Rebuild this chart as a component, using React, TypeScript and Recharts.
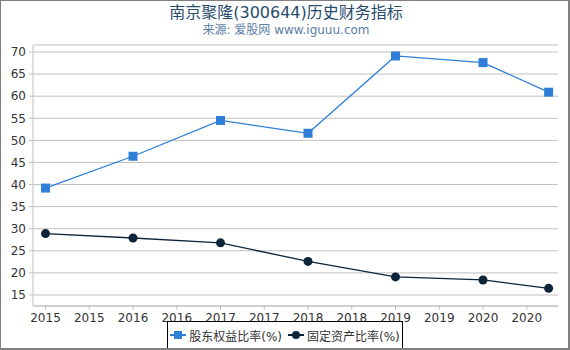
import { LineChart, Line, XAxis, YAxis, CartesianGrid } from 'recharts';

// years after end of 2015 (last point is Q3 2020)
const periods = [0, 1, 2, 3, 4, 5, 5.75];
const equityRatio = [39.2, 46.4, 54.5, 51.6, 69.1, 67.6, 60.9];
const fixedAssetRatio = [28.9, 27.9, 26.8, 22.6, 19.1, 18.4, 16.5];

const xTicks = [0, 0.5, 1, 1.5, 2, 2.5, 3, 3.5, 4, 4.5, 5, 5.5];
const xTickLabels = ['2015', '2015', '2016', '2016', '2017', '2017', '2018', '2018', '2019', '2019', '2020', '2020'];
const yTicks = [15, 20, 25, 30, 35, 40, 45, 50, 55, 60, 65, 70];

const data = periods.map((p, i) => ({
  p,
  equity: equityRatio[i],
  fixed: fixedAssetRatio[i],
}));

const FONT = '"DejaVu Sans", "Noto Sans CJK SC", sans-serif';
const BLUE = '#2f7ed8';
const DARK = '#0d233a';

const SquareDot = (props: any) => {
  const { cx, cy, index } = props;
  return <rect key={`sq-${index}`} x={cx - 4.5} y={cy - 4.5} width={9} height={9} fill={BLUE} />;
};

const CircleDot = (props: any) => {
  const { cx, cy, index } = props;
  return <circle key={`ci-${index}`} cx={cx} cy={cy} r={4.5} fill={DARK} />;
};

export default function App() {
  return (
    <div
      style={{
        position: 'absolute',
        left: 0,
        top: 0,
        width: 570,
        height: 350,
        boxSizing: 'border-box',
        borderTop: '1px solid #808080',
        borderLeft: '1px solid #808080',
        borderRight: '2px solid #808080',
        borderBottom: '2px solid #808080',
        background: '#fff',
        fontFamily: FONT,
        overflow: 'hidden',
      }}
    >
      <div style={{ position: 'absolute', left: -1, top: -1, width: 570, height: 350 }}>
        <LineChart width={570} height={350} data={data} margin={{ top: 45, right: 12, bottom: 24, left: 0 }}>
          <CartesianGrid horizontal vertical={false} stroke="#c0c0c0" />
          <XAxis
            dataKey="p"
            type="number"
            domain={[-0.143, 5.857]}
            ticks={xTicks}
            tickFormatter={(v: number) => xTickLabels[xTicks.indexOf(v)] ?? ''}
            height={20}
            stroke="#c0c0c0"
            tickSize={4}
            tickMargin={3}
            tick={{ fill: '#333', fontSize: 12, fontFamily: FONT }}
            allowDataOverflow
            interval={0}
          />
          <YAxis
            type="number"
            domain={[12.51, 71.58]}
            ticks={yTicks}
            width={33}
            stroke="#c0c0c0"
            tickSize={4}
            tickMargin={3}
            tick={{ fill: '#333', fontSize: 12, fontFamily: FONT }}
            allowDataOverflow
            interval={0}
          />
          <Line
            dataKey="equity"
            stroke={BLUE}
            strokeWidth={1.3}
            dot={SquareDot}
            activeDot={false}
            isAnimationActive={false}
          />
          <Line
            dataKey="fixed"
            stroke={DARK}
            strokeWidth={1.3}
            dot={CircleDot}
            activeDot={false}
            isAnimationActive={false}
          />
        </LineChart>
      </div>

      <div
        style={{
          position: 'absolute',
          left: 0,
          top: 2,
          width: 570,
          textAlign: 'center',
          fontSize: 16,
          color: '#274b6d',
          lineHeight: '20px',
        }}
      >
        南京聚隆(300644)历史财务指标
      </div>
      <div
        style={{
          position: 'absolute',
          left: 0,
          top: 21,
          width: 570,
          textAlign: 'center',
          fontSize: 12,
          color: '#5a7ea6',
          lineHeight: '16px',
        }}
      >
        来源: 爱股网 www.iguuu.com
      </div>

      {/* Legend */}
      <div
        style={{
          position: 'absolute',
          left: 166,
          top: 320,
          width: 236,
          height: 28,
          boxSizing: 'border-box',
          border: '1px solid #000',
          display: 'flex',
          alignItems: 'center',
          justifyContent: 'center',
          gap: 6,
          fontSize: 12,
          color: '#333',
          whiteSpace: 'nowrap',
        }}
      >
        <div style={{ display: 'flex', alignItems: 'center', gap: 3 }}>
          <svg width={16} height={10}>
            <line x1={0} y1={5} x2={16} y2={5} stroke={BLUE} strokeWidth={2} />
            <rect x={4} y={1} width={8} height={8} fill={BLUE} />
          </svg>
          <span>股东权益比率(%)</span>
        </div>
        <div style={{ display: 'flex', alignItems: 'center', gap: 3 }}>
          <svg width={16} height={10}>
            <line x1={0} y1={5} x2={16} y2={5} stroke={DARK} strokeWidth={2} />
            <circle cx={8} cy={5} r={4} fill={DARK} />
          </svg>
          <span>固定资产比率(%)</span>
        </div>
      </div>
    </div>
  );
}
